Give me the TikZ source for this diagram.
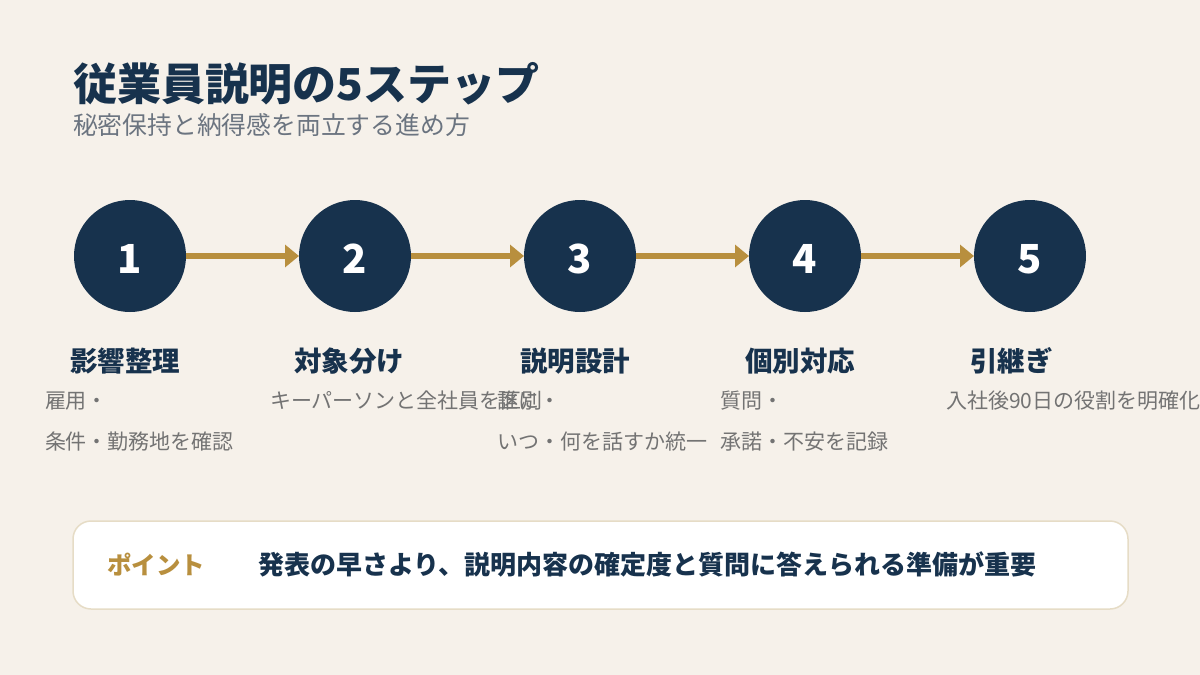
\documentclass[tikz,border=0pt]{standalone}
\usepackage{fontspec}
\setmainfont{Noto Sans CJK JP}
\usetikzlibrary{arrows.meta}
\definecolor{bgc}{HTML}{F6F1EA}
\definecolor{navy}{HTML}{17324D}
\definecolor{gold}{HTML}{B88F3E}
\definecolor{subg}{HTML}{6B7480}
\definecolor{descg}{HTML}{737373}
\definecolor{boxline}{HTML}{E6DCC6}
\tikzset{
  txt/.style={anchor=base west, inner sep=0pt, outer sep=0pt},
  titletxt/.style={txt, text=navy, font=\fontsize{44}{50}\selectfont\bfseries},
  subtxt/.style={txt, text=subg, font=\fontsize{24.8}{30}\selectfont},
  stepcircle/.style={circle, fill=navy, minimum size=112pt, inner sep=0pt, outer sep=0pt},
  numtxt/.style={anchor=base, inner sep=0pt, text=white, font=\fontsize{40}{46}\selectfont\bfseries},
  labeltxt/.style={txt, text=navy, font=\fontsize{27.5}{32}\selectfont\bfseries},
  desctxt/.style={txt, text=descg, font=\fontsize{21}{24}\selectfont},
  flow/.style={draw=gold, line width=6pt, -{Triangle[length=14pt,width=22pt]}},
  pointbox/.style={draw=boxline, line width=1.5pt, fill=white, rounded corners=18pt},
  pointtag/.style={txt, text=gold, font=\fontsize{24.5}{28}\selectfont\bfseries},
  pointtxt/.style={txt, text=navy, font=\fontsize{26}{30}\selectfont\bfseries}
}
\begin{document}
\begin{tikzpicture}[x=1pt,y=-1pt]
\useasboundingbox (0,0) rectangle (1200,675);
\fill[bgc] (0,0) rectangle (1200,675);

\node[titletxt] (title) at (73,100) {従業員説明の5ステップ};
\node[subtxt] (subtitle) at (73,134.5) {秘密保持と納得感を両立する進め方};

% circles
\node[stepcircle] (c1) at (130,256) {};
\node[stepcircle] (c2) at (355,256) {};
\node[stepcircle] (c3) at (580,256) {};
\node[stepcircle] (c4) at (805,256) {};
\node[stepcircle] (c5) at (1030,256) {};
\node[numtxt] (n1) at (130,273) {1};
\node[numtxt] (n2) at (355,273) {2};
\node[numtxt] (n3) at (580,273) {3};
\node[numtxt] (n4) at (805,273) {4};
\node[numtxt] (n5) at (1030,273) {5};

\draw[flow] (c1) -- (c2);
\draw[flow] (c2) -- (c3);
\draw[flow] (c3) -- (c4);
\draw[flow] (c4) -- (c5);

% labels
\node[labeltxt] (l1) at (70,371.5) {影響整理};
\node[labeltxt] (l2) at (294,371.5) {対象分け};
\node[labeltxt] (l3) at (520,371.5) {説明設計};
\node[labeltxt] (l4) at (745,371.5) {個別対応};
\node[labeltxt] (l5) at (970,371.5) {引継ぎ};

% descriptions
\node[desctxt] (d1a) at (45,408.5) {雇用・};
\node[desctxt] (d1b) at (45,449.5) {条件・勤務地を確認};
\node[desctxt] (d2a) at (270,408.5) {キーパーソンと全社員を区別};
\node[desctxt] (d3a) at (497,408.5) {誰に・};
\node[desctxt] (d3b) at (497,449.5) {いつ・何を話すか統一};
\node[desctxt] (d4a) at (720,408.5) {質問・};
\node[desctxt] (d4b) at (720,449.5) {承諾・不安を記録};
\node[desctxt] (d5a) at (946,408.5) {入社後90日の役割を明確化};

% point box
\draw[pointbox] (73,521) rectangle (1128,609);
\node[pointtag] (ptag) at (107,574) {ポイント};
\node[pointtxt] (ptxt) at (258,574.5) {発表の早さより、説明内容の確定度と質問に答えられる準備が重要};
\end{tikzpicture}
\end{document}
